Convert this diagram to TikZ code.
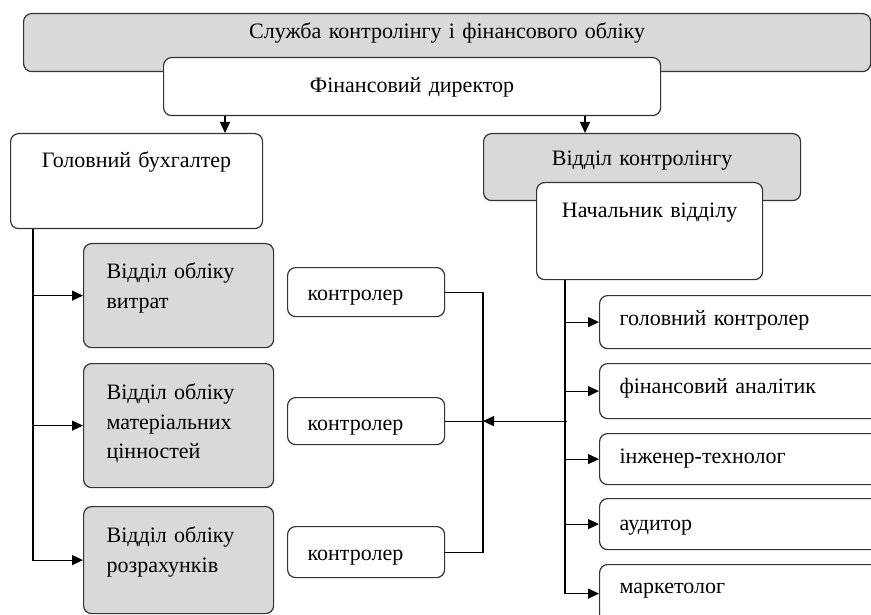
\documentclass[tikz,border=0pt]{standalone}
\usepackage{fontspec}
\setmainfont{Liberation Serif}
\usetikzlibrary{arrows.meta}
\definecolor{boxgray}{HTML}{D9D9D9}
\definecolor{edge}{HTML}{333333}
\tikzset{
  unit/.style={draw=edge,line width=1.2pt,rounded corners=8pt,inner ysep=0pt,anchor=north west,font=\fontsize{22}{29.5}\selectfont},
  cbox/.style={unit,fill=white,align=center,inner xsep=0pt},
  cgray/.style={cbox,fill=boxgray},
  lbox/.style={unit,fill=white,align=left,inner xsep=20pt},
  lgray/.style={lbox,fill=boxgray,inner xsep=23pt},
  sz/.style n args={3}{text width=#1pt,text height=#2pt,text depth=#3pt},
  link/.style={draw=black,line width=1.2pt},
  larr/.style={link,-{Triangle[length=11pt,width=10pt]}},
}
\begin{document}
\begin{tikzpicture}[x=1pt,y=-1pt]
  \useasboundingbox (0,0) rectangle (871,615);
  % top
  \node[cgray,sz={847}{25}{33}] (ttl) at (23,13) {Служба контролінгу і фінансового обліку};
  \node[cbox,sz={497}{35}{23}] (fd) at (163,57) {Фінансовий директор};
  \node[cbox,sz={252}{34}{61}] (gb) at (10,133) {Головний бухгалтер};
  \node[cgray,sz={317}{32}{35}] (vk) at (483,133) {Відділ контролінгу};
  \node[cbox,sz={226}{35}{62}] (nv) at (536,182) {Начальник відділу};
  % accounting departments
  \node[lgray,sz={144}{35}{69}] (vo1) at (83,243) {Відділ обліку\\витрат};
  \node[lgray,sz={144}{36}{88}] (vo2) at (83,363) {Відділ обліку\\матеріальних\\цінностей};
  \node[lgray,sz={144}{36}{71}] (vo3) at (83,506) {Відділ обліку\\розрахунків};
  \node[lbox,sz={117}{33}{16}] (k1) at (287,267) {контролер};
  \node[lbox,sz={117}{33}{14}] (k2) at (287,397) {контролер};
  \node[lbox,sz={117}{34}{17}] (k3) at (287,526) {контролер};
  % controlling staff
  \node[lbox,sz={246}{30}{23}] (r1) at (599,295) {головний контролер};
  \node[lbox,sz={246}{30}{25}] (r2) at (599,363) {фінансовий аналітик};
  \node[lbox,sz={246}{30}{21}] (r3) at (599,433) {інженер-технолог};
  \node[lbox,sz={246}{32}{19}] (r4) at (599,498) {аудитор};
  \node[lbox,sz={246}{29}{29}] (r5) at (599,564) {маркетолог};

  \coordinate (d1) at (225,0);
  \coordinate (d2) at (585,0);
  \coordinate (lt) at (33,0);
  \coordinate (rt) at (565,0);
  \coordinate (bus) at (483,0);
  \draw[larr] (fd.south -| d1) -- (gb.north -| d1);
  \draw[larr] (fd.south -| d2) -- (vk.north -| d2);
  \draw[larr] (gb.south -| lt) |- (vo3.west);
  \foreach \v in {vo1,vo2} \draw[larr] (lt |- \v.west) -- (\v.west);
  \draw[larr] (nv.south -| rt) |- (r5.west);
  \foreach \r in {r1,r2,r3,r4} \draw[larr] (rt |- \r.west) -- (\r.west);
  \draw[link] (k1.east) -| (bus |- k3.east) -- (k3.east);
  \draw[link] (k2.east) -- (bus |- k2.east);
  \draw[larr] ([xshift=2pt]rt |- k2.east) -- (bus |- k2.east);
\end{tikzpicture}
\end{document}
